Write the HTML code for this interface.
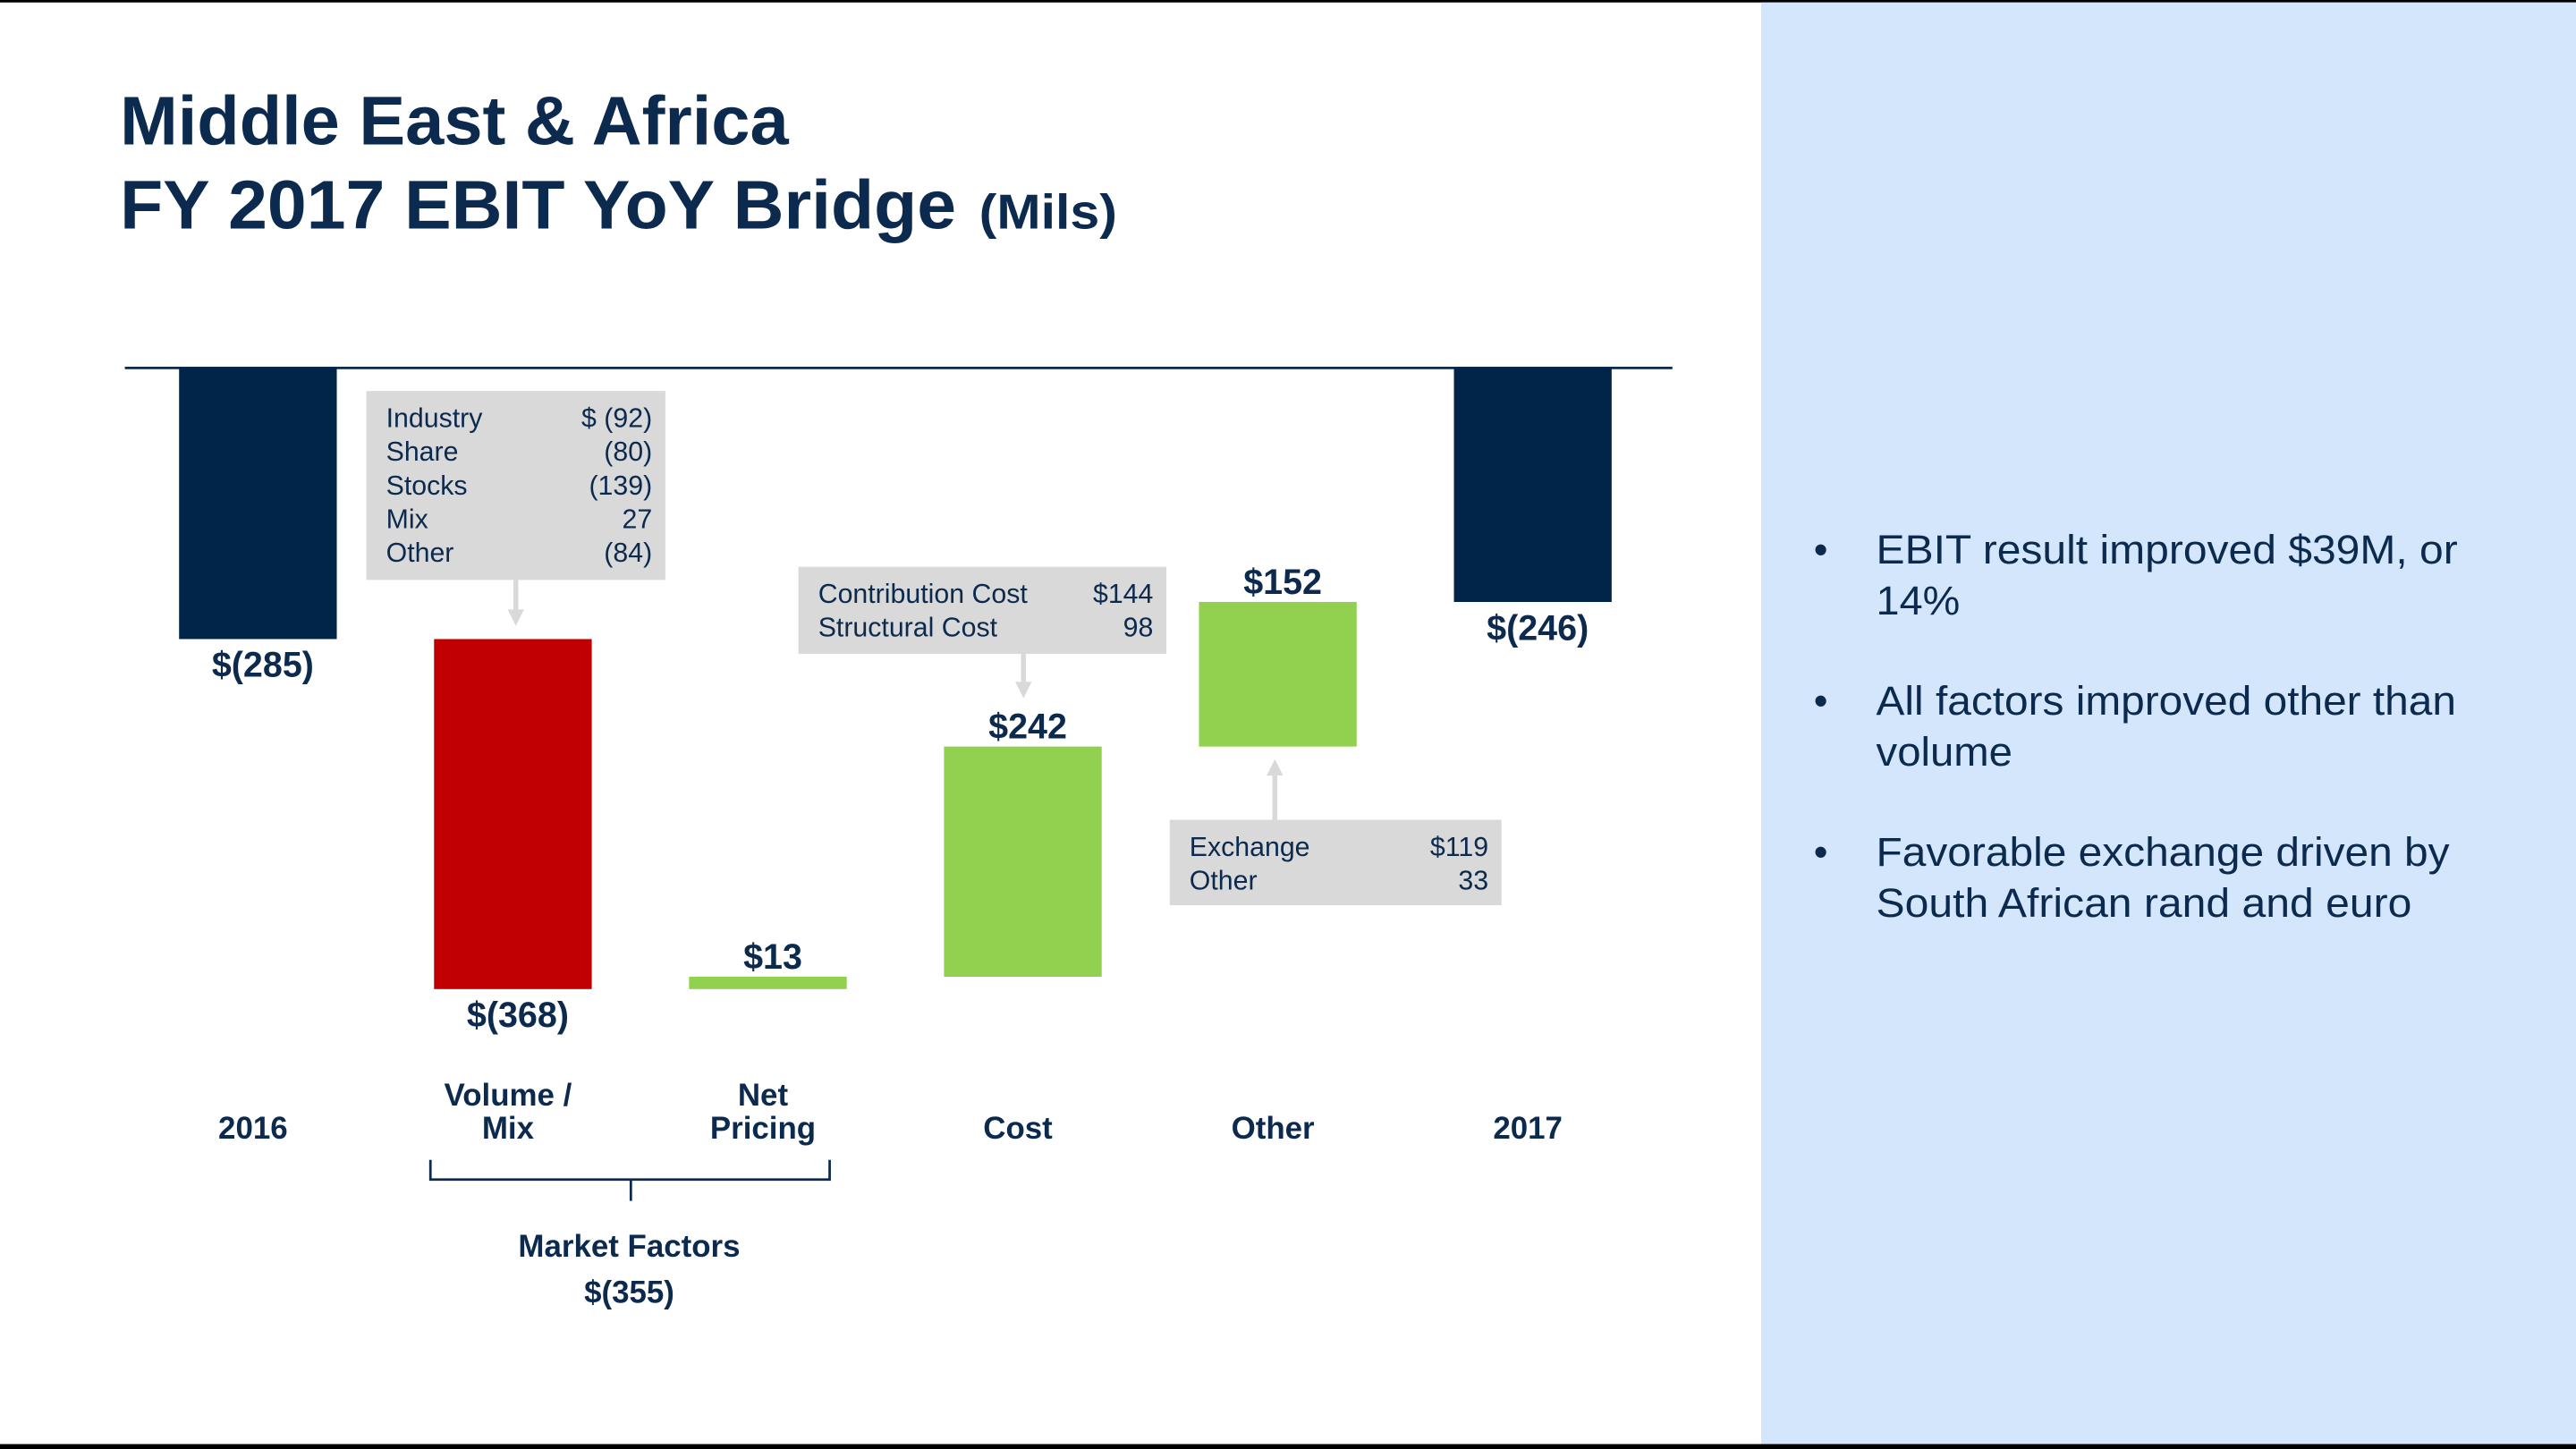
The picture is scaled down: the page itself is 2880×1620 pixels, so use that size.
<!DOCTYPE html>
<html><head><meta charset="utf-8"><style>
html,body{margin:0;padding:0;background:#fff;}
svg{display:block;font-family:"Liberation Sans",Arial,sans-serif;}
</style></head><body>
<svg id="chart" width="2880" height="1620" viewBox="0 0 1568 882" xmlns="http://www.w3.org/2000/svg">
<rect x="0" y="0" width="1568" height="882" fill="#fff"/>
<rect x="0" y="0" width="1568" height="1.5" fill="#000"/>
<rect x="1072" y="1.5" width="496" height="878" fill="#d4e6fc"/>
<rect x="0" y="879" width="1568" height="3" fill="#000"/>
<g fill="#0c2a4e" font-weight="bold">
<text x="73" y="88" font-size="42" textLength="407" lengthAdjust="spacingAndGlyphs">Middle East &amp; Africa</text>
<text x="73" y="139" font-size="42" textLength="509" lengthAdjust="spacingAndGlyphs">FY 2017 EBIT YoY Bridge</text>
<text x="596" y="139" font-size="30" textLength="84" lengthAdjust="spacingAndGlyphs">(Mils)</text>
</g>
<g id="plot"></g>
<g fill="#0c2a4e" font-size="24.5">
<text x="1104" y="343">•</text>
<text x="1142" y="343" textLength="354" lengthAdjust="spacingAndGlyphs">EBIT result improved $39M, or</text>
<text x="1142" y="374" textLength="51" lengthAdjust="spacingAndGlyphs">14%</text>
<text x="1104" y="435">•</text>
<text x="1142" y="435" textLength="353" lengthAdjust="spacingAndGlyphs">All factors improved other than</text>
<text x="1142" y="466" textLength="83" lengthAdjust="spacingAndGlyphs">volume</text>
<text x="1104" y="527">•</text>
<text x="1142" y="527" textLength="349" lengthAdjust="spacingAndGlyphs">Favorable exchange driven by</text>
<text x="1142" y="558" textLength="326" lengthAdjust="spacingAndGlyphs">South African rand and euro</text>
</g>
</svg>
<script>
const categories = ["2016", "Volume /|Mix", "Net|Pricing", "Cost", "Other", "2017"];
const deltas = [-285, -368, 13, 242, 152, -246];
const kinds = ["total", "delta", "delta", "delta", "delta", "total"];
const valueLabels = ["$(285)", "$(368)", "$13", "$242", "$152", "$(246)"];

const NS = "http://www.w3.org/2000/svg";
const plot = document.getElementById("plot");
const baseY = 224, unit = 165 / 285;
const y = v => baseY - v * unit;
const x0 = 109, step = 155.2, bw = 96;
const xc = i => x0 + i * step + bw / 2;
const navy = "#002549", red = "#c00000", green = "#92d050", txt = "#0c2a4e";

function mk(tag, attrs, parent) {
  const e = document.createElementNS(NS, tag);
  for (const k in attrs) e.setAttribute(k, attrs[k]);
  (parent || plot).appendChild(e);
  return e;
}

const axis = mk("line", {x1: 76, x2: 1018, y1: baseY, y2: baseY, stroke: "#0c2a4e", "stroke-width": 1.5});



let running = 0;
deltas.forEach((d, i) => {
  let a, b;
  if (kinds[i] === "total") { a = 0; b = d; running = d; }
  else { a = running; b = running + d; running = b; }
  const top = y(Math.max(a, b)), bot = y(Math.min(a, b));
  const fill = kinds[i] === "total" ? navy : (d < 0 ? red : green);
  const r = mk("rect", {x: xc(i) - bw / 2, y: top, width: bw, height: Math.max(bot - top, 1), fill: fill});
  
  
  const below = d < 0;
  const ty = below ? bot + 23 : top - 5;
  const t = mk("text", {x: xc(i) + 3, y: ty, "text-anchor": "middle", "font-size": 21.5, "font-weight": "bold", fill: txt});
  t.textContent = valueLabels[i];
  
  
  const lines = categories[i].split("|");
  lines.forEach((ln, j) => {
    const c = mk("text", {x: xc(i) - 3, y: 693 - (lines.length - 1 - j) * 20, "text-anchor": "middle", "font-size": 19, "font-weight": "bold", fill: txt});
    c.textContent = ln;
    
    
  });
});

function callout(name, bx, by, bw2, bh, rows, arrow) {
  const g = mk("g", {});
  
  
  mk("rect", {x: bx, y: by, width: bw2, height: bh, fill: "#d9d9d9"}, g);
  rows.forEach((r, j) => {
    const l = mk("text", {x: bx + 12, y: by + 22 + j * 20.5, "font-size": 16.5, fill: txt}, g);
    l.textContent = r[0];
    const v = mk("text", {x: bx + bw2 - 8, y: by + 22 + j * 20.5, "font-size": 16.5, fill: txt, "text-anchor": "end"}, g);
    v.textContent = r[1];
  });
  const [ax, ay1, ay2] = arrow;
  const dir = ay2 > ay1 ? 1 : -1;
  mk("line", {x1: ax, x2: ax, y1: ay1, y2: ay2 - dir * 8, stroke: "#d9d9d9", "stroke-width": 3}, g);
  mk("polygon", {points: `${ax - 5},${ay2 - dir * 10} ${ax + 5},${ay2 - dir * 10} ${ax},${ay2}`, fill: "#d9d9d9"}, g);
}
callout("volume-mix-callout", 223, 238, 182, 115, [["Industry", "$  (92)"], ["Share", "(80)"], ["Stocks", "(139)"], ["Mix", "27  "], ["Other", "(84)"]], [314, 353, 381]);
callout("cost-callout", 486, 345, 224, 53, [["Contribution Cost", "$144"], ["Structural Cost", "98"]], [623, 398, 425]);
callout("other-callout", 712, 499, 202, 52, [["Exchange", "$119"], ["Other", "33"]], [776, 499, 462]);

const br = mk("path", {d: "M262,706 V718 H505 V706 M384,718 V731", fill: "none", stroke: "#0c2a4e", "stroke-width": 1.5});


const mf = mk("text", {x: 383, y: 765, "text-anchor": "middle", "font-size": 19, "font-weight": "bold", fill: txt});
mf.textContent = "Market Factors";


const mv = mk("text", {x: 383, y: 793, "text-anchor": "middle", "font-size": 19, "font-weight": "bold", fill: txt});
mv.textContent = "$(355)";


</script>
</body></html>
